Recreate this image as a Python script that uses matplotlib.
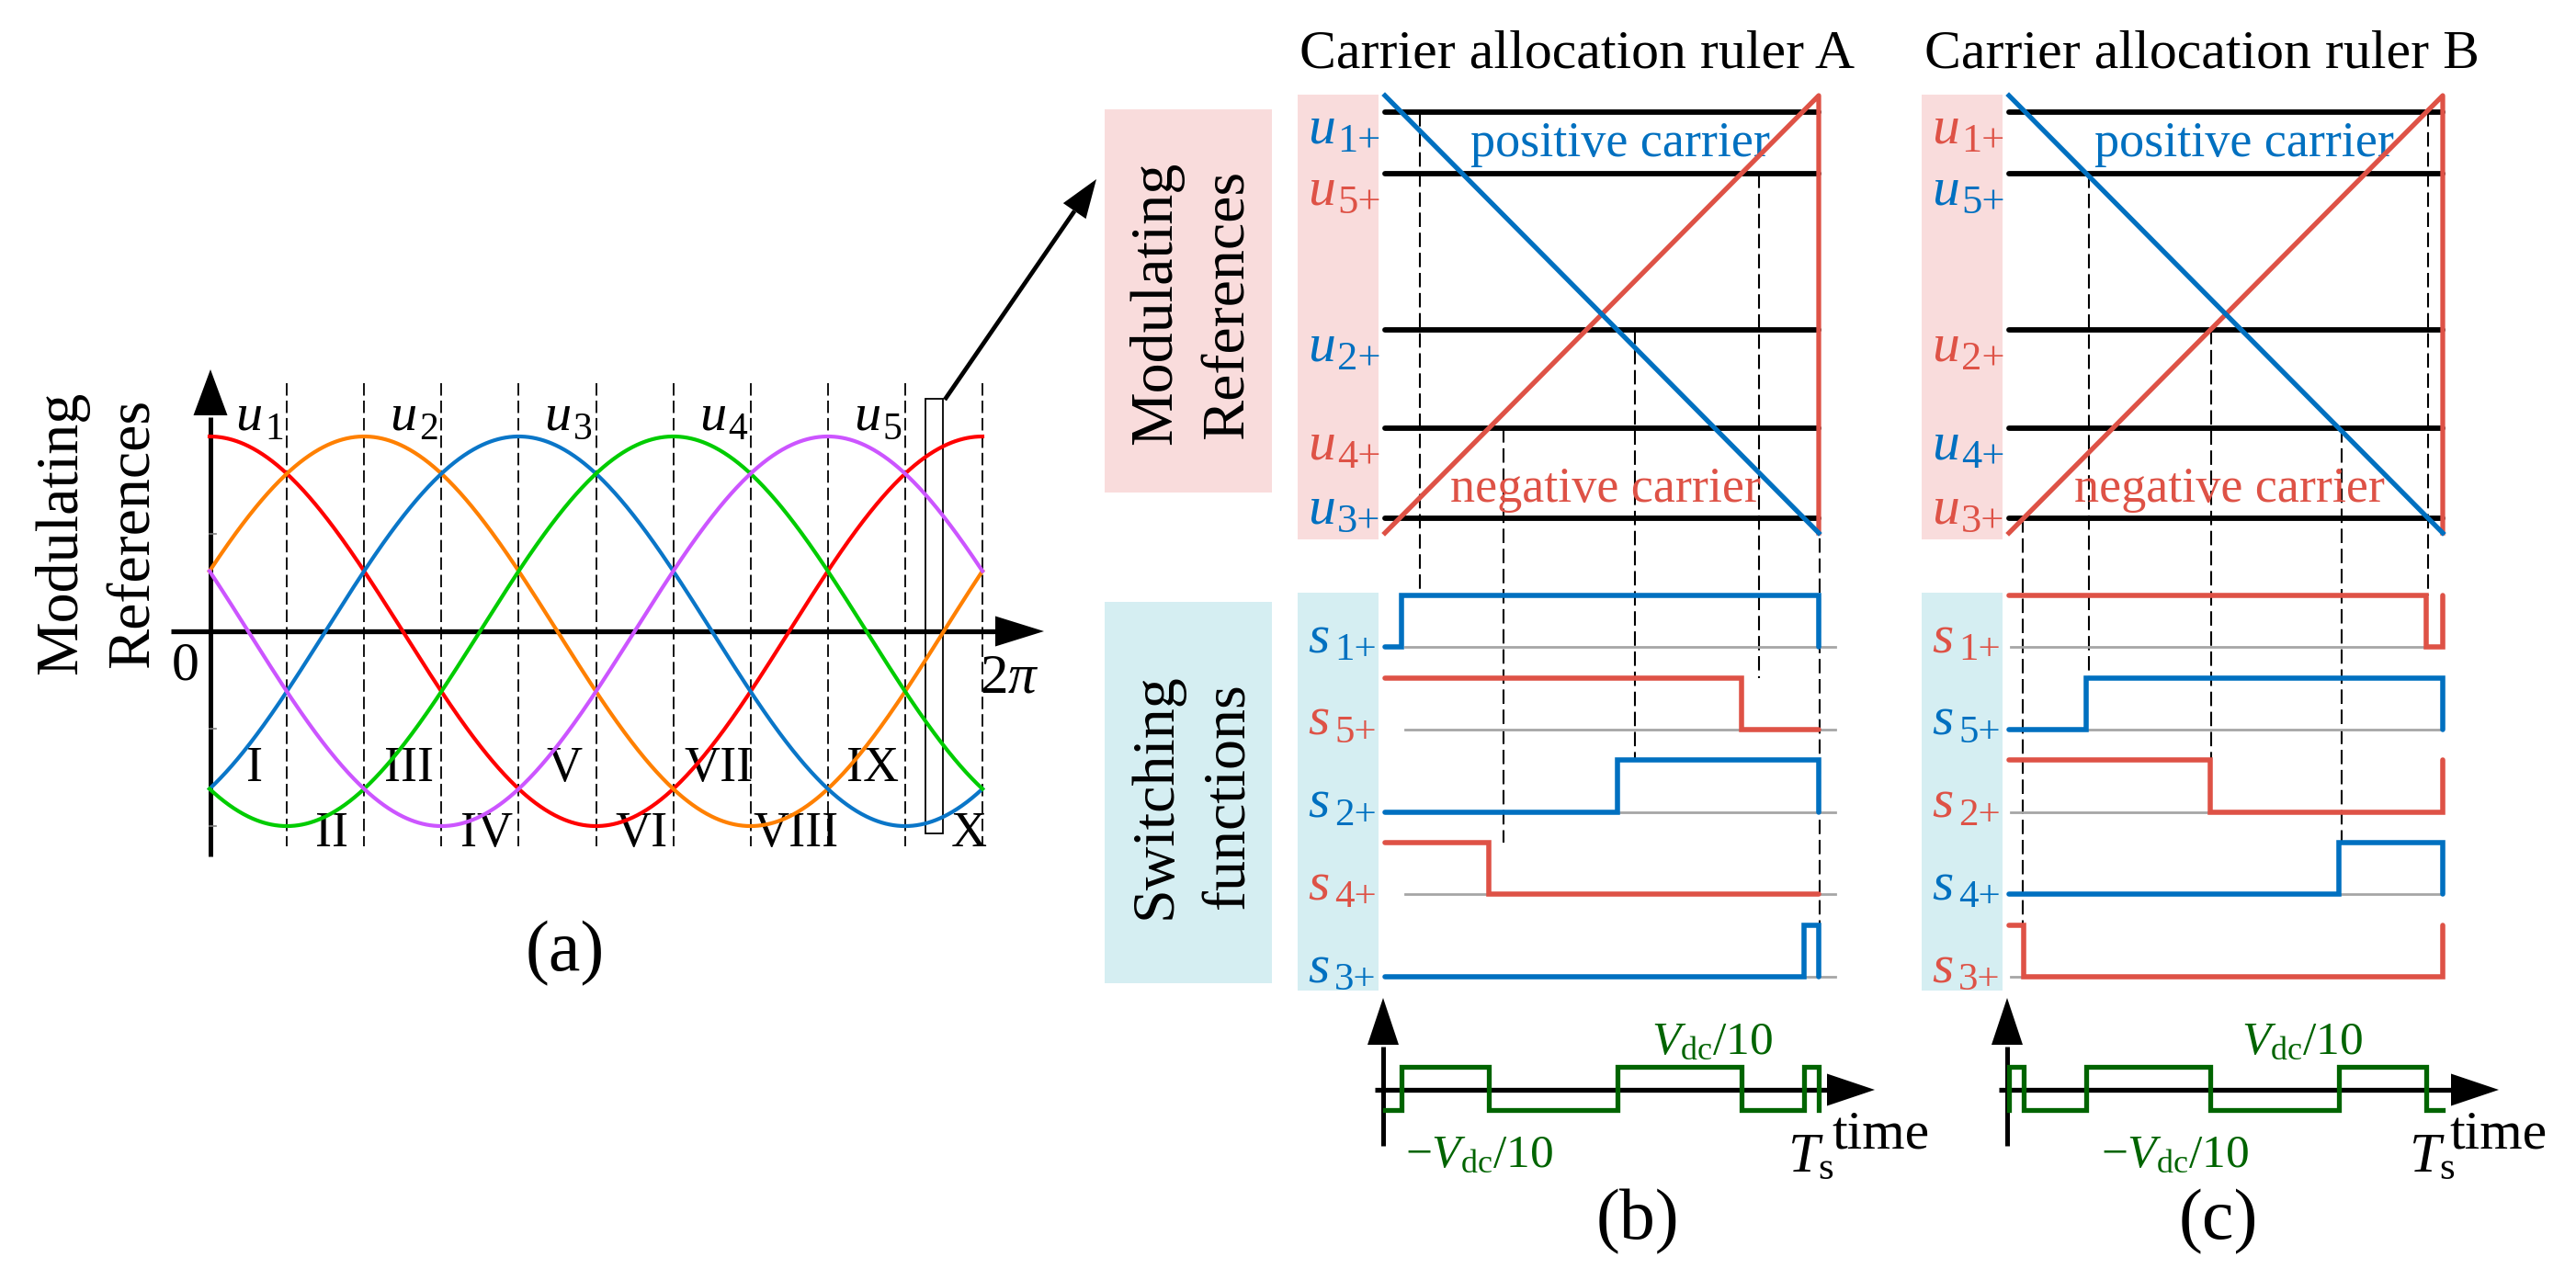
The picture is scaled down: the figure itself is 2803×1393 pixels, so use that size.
import numpy as np
import matplotlib
matplotlib.use('Agg')
import matplotlib.pyplot as plt
from matplotlib.patches import Rectangle, Polygon

plt.rcParams['font.family'] = ['Liberation Serif', 'DejaVu Serif']
plt.rcParams['mathtext.fontset'] = 'custom'
plt.rcParams['mathtext.rm'] = 'Liberation Serif'
plt.rcParams['mathtext.it'] = 'Liberation Serif:italic'
plt.rcParams['mathtext.bf'] = 'Liberation Serif:bold'

# ---------------- data ----------------
# panel (a): five-phase modulating references
phase_names = ['1', '2', '3', '4', '5']
phase_shift_deg = [0, 72, 144, 216, 288]
phase_colors = ['#FF0000', '#FF8000', '#0A76C8', '#00CC00', '#CC55FF']
sector_labels = ['I', 'II', 'III', 'IV', 'V', 'VI', 'VII', 'VIII', 'IX', 'X']
y_ticks_a = [1.0, 0.5, -0.5, -1.0]

# panels (b), (c): sorted references in the highlighted interval
ref_names = ['1+', '5+', '2+', '4+', '3+']
ref_levels = [0.962, 0.821, 0.464, 0.239, 0.034]
carrier_A = ['pos', 'neg', 'pos', 'neg', 'pos']
carrier_B = ['neg', 'pos', 'neg', 'pos', 'neg']
dash_t_A = [0.081, 0.862, 0.576, 0.273, 1.002]
dash_t_B = [0.966, 0.184, 0.466, 0.767, 0.032]

BLUE = '#0070C0'
RED = '#DE5246'
GREEN = '#006400'
GRAY = '#A6A6A6'
PINK = '#F9DCDC'
LBLUE = '#D5EEF2'

W, H = 2803, 1393
fig = plt.figure(figsize=(W / 100, H / 100), dpi=100)
ov = fig.add_axes([0, 0, 1, 1])
ov.set_xlim(0, W)
ov.set_ylim(H, 0)
ov.axis('off')


def add_ax(x0, x1, y0, y1, xlim, ylim):
    ax = fig.add_axes([x0 / W, 1 - y1 / H, (x1 - x0) / W, (y1 - y0) / H])
    ax.set_xlim(*xlim)
    ax.set_ylim(*ylim)
    ax.axis('off')
    return ax


def to_ov(ax, x, y):
    dx, dy = ax.transData.transform((x, y))
    return dx, H - dy


def head(tip, direction, length, width, color='k'):
    tx, ty = tip
    ux, uy = direction
    n = np.hypot(ux, uy)
    ux, uy = ux / n, uy / n
    bx, by = tx - ux * length, ty - uy * length
    px, py = -uy, ux
    ov.add_patch(Polygon([[tx, ty], [bx + px * width / 2, by + py * width / 2],
                          [bx - px * width / 2, by - py * width / 2]],
                         closed=True, fc=color, ec=color, lw=0, zorder=5))
    return bx, by


def sub_label(x, y, main, sub, color='k', size=43, sub_size=32, sub_dx=32, sub_dy=10):
    ov.text(x, y, main, color=color, fontsize=size, fontstyle='italic',
            ha='left', va='baseline', zorder=6)
    ov.text(x + sub_dx, y + sub_dy, sub, color=color, fontsize=sub_size,
            ha='left', va='baseline', zorder=6)


# ---------------- panel (a) ----------------
ax_a = add_ax(228, 1069, 475, 899, (0, 2 * np.pi), (-1, 1))
theta = np.linspace(0, 2 * np.pi, 800)
for name, sh, col in zip(phase_names, phase_shift_deg, phase_colors):
    ax_a.plot(theta, np.cos(theta - np.deg2rad(sh)), color=col, lw=3.0,
              clip_on=False, zorder=3)
    px, _ = to_ov(ax_a, np.deg2rad(sh), 1)
    sub_label(px + 28, 468, 'u', name, size=42, sub_size=30, sub_dx=32, sub_dy=10)

n_sec = len(sector_labels)
for k in range(1, n_sec + 1):
    th = k * 2 * np.pi / n_sec
    ax_a.plot([th, th], [1.274, -1.104], color='k', lw=1.3,
              ls=(0, (7.5, 3)), clip_on=False, zorder=2)
for k, lab in enumerate(sector_labels):
    th = (k + 0.5) * 2 * np.pi / n_sec
    px, _ = to_ov(ax_a, th, 0)
    px += 27 if k == n_sec - 1 else 7
    yb = 850 if k % 2 == 0 else 921
    ov.text(px, yb, lab, fontsize=39, ha='center', va='baseline')
for v in y_ticks_a:
    ax_a.plot([0, 0.055], [v, v], color='#7F7F7F', lw=1.2, clip_on=False)

# axes of (a)
bx, by = head((229, 402), (0, -1), 50, 37)
ov.plot([229, 229], [932, by + 2], color='k', lw=3.6, solid_capstyle='butt')
bx, by = head((1136, 687), (1, 0), 53, 33)
ov.plot([186, bx + 2], [687, 687], color='k', lw=3.8, solid_capstyle='butt')
ov.text(202, 739, '0', fontsize=43, ha='center', va='baseline')
ov.text(1066, 753, r'$2\pi$', fontsize=44, ha='left', va='baseline')
ov.text(83, 580, 'Modulating', rotation=90, rotation_mode='anchor',
        ha='center', va='baseline', fontsize=47.5)
ov.text(162, 580, 'References', rotation=90, rotation_mode='anchor',
        ha='center', va='baseline', fontsize=47.5)
ov.text(615, 1056, '(a)', fontsize=56, ha='center', va='baseline')

# highlighted interval and pointer arrow
ov.add_patch(Rectangle((1007, 434), 19, 473, fill=False, ec='k', lw=1.3, zorder=4))
bx, by = head((1193, 195), (1193 - 1028, 195 - 435), 42, 30)
ov.plot([1028, bx], [435, by], color='k', lw=3.4, solid_capstyle='butt')


# ---------------- panels (b), (c) ----------------
def draw_ruler(x0, carriers, dash_t, cfg):
    ax_c = add_ax(x0, x0 + 472, 104, 580, (0, 1), (0, 1))
    ax_s = add_ax(x0, x0 + 472, 648, 1063, (0, 1), (-4, 0.624))
    ax_v = add_ax(x0, x0 + 472, 1161, 1208, (0, 1), (-0.5, 0.5))

    # boxes
    ov.add_patch(Rectangle((x0 - 95, 103), 88, 484, fc=PINK, ec='none', zorder=0))
    ov.add_patch(Rectangle((x0 - 95, 645), 88, 433, fc=LBLUE, ec='none', zorder=0))
    if cfg['big_boxes']:
        ov.add_patch(Rectangle((1202, 119), 182, 417, fc=PINK, ec='none', zorder=0))
        ov.add_patch(Rectangle((1202, 655), 182, 415, fc=LBLUE, ec='none', zorder=0))
        ov.text(1274, 330, 'Modulating', rotation=90, rotation_mode='anchor',
                ha='center', va='baseline', fontsize=47.5)
        ov.text(1353, 331, 'References', rotation=90, rotation_mode='anchor',
                ha='center', va='baseline', fontsize=47.5)
        ov.text(1274, 866, 'Switching', rotation=90, rotation_mode='anchor',
                ha='center', va='baseline', fontsize=47.5)
        ov.text(1353, 866, 'functions', rotation=90, rotation_mode='anchor',
                ha='center', va='baseline', fontsize=47.5)

    ov.text(cfg['title_x'], 74, cfg['title'], fontsize=43, ha='center', va='baseline')

    # references and carriers
    for u in ref_levels:
        ax_c.plot([0, 1], [u, u], color='k', lw=4.2, solid_capstyle='round',
                  clip_on=False, zorder=2)
    ax_c.plot([0, 1, 1], [0, 1, 0], color=RED, lw=3.8, clip_on=False, zorder=3)
    ax_c.plot([0, 1], [1, 0], color=BLUE, lw=3.8, clip_on=False, zorder=4)
    ov.text(x0 + 256, 170, 'positive carrier', color=BLUE, fontsize=39,
            ha='center', va='baseline')
    ov.text(x0 + 240, 546, 'negative carrier', color=RED, fontsize=39,
            ha='center', va='baseline')

    # switching functions
    switch_t = []
    for i, (name, u, car) in enumerate(zip(ref_names, ref_levels, carriers)):
        col = BLUE if car == 'pos' else RED
        base, high = -i, -i + 0.624
        ax_s.plot(cfg['gray_span'], [base, base], color=GRAY, lw=2.0,
                  clip_on=False, zorder=1)
        if car == 'pos':
            ts = 1 - u
            xs, ys = [0, ts, ts, 1, 1], [base, base, high, high, base]
        else:
            ts = u
            xs, ys = [0, ts, ts, 1], [high, high, base, base]
            if cfg['red_end_jump']:
                xs, ys = xs + [1], ys + [high]
        switch_t.append(ts)
        ax_s.plot(xs, ys, color=col, lw=4.0, solid_joinstyle='miter',
                  solid_capstyle='round', clip_on=False, zorder=3)
        # labels
        _, yl = to_ov(ax_c, 0, u)
        sub_label(x0 - 84, min(yl + 33, 569), 'u', name, color=col,
                  size=43, sub_size=32, sub_dx=32, sub_dy=10)
        _, ys_ = to_ov(ax_s, 0, base)
        sub_label(x0 - 84, ys_ + 6, 's', name, color=col,
                  size=43, sub_size=31, sub_dx=29, sub_dy=8)
        # dashed guide line
        xa, ya = to_ov(ax_c, dash_t[i], u)
        xb, yb = to_ov(ax_s, dash_t[i], high)
        ov.plot([xa, xb], [ya, yb], color='k', lw=1.5, ls=(0, (7.5, 3)), zorder=1)

    # phase voltage waveform
    bps = sorted(set([0.0] + switch_t + [1.0]))
    vx, vy = [0.0], [-0.5]
    for a, b in zip(bps[:-1], bps[1:]):
        m = 0.5 * (a + b)
        tot = 0
        for u, car in zip(ref_levels, carriers):
            if car == 'pos':
                tot += 1 if m >= 1 - u else 0
            else:
                tot += 1 if m < u else 0
        v = tot - 2.5
        vx += [a, b]
        vy += [v, v]
    vx.append(1.0)
    vy.append(-0.5)
    ax_v.plot(vx, vy, color=GREEN, lw=3.8, solid_joinstyle='miter',
              clip_on=False, zorder=3)

    # time axes
    xv = x0 - 2
    bx, by = head((xv, 1086), (0, -1), 51, 34)
    ov.plot([xv, xv], [1247, by + 2], color='k', lw=3.6, solid_capstyle='butt', zorder=2)
    tipx = x0 + 533
    bx, by = head((tipx, 1186), (1, 0), 52, 35)
    ov.plot([x0 - 11, bx + 2], [1186, 1186], color='k', lw=3.8,
            solid_capstyle='butt', zorder=2)

    ov.text(x0 + cfg['vpos_x'], 1147, r'$V_{\mathrm{dc}}/10$', color=GREEN,
            fontsize=37, ha='left', va='baseline')
    ov.text(x0 + cfg['vneg_x'], 1270, r'$-V_{\mathrm{dc}}/10$', color=GREEN,
            fontsize=37, ha='left', va='baseline')
    ov.text(x0 + cfg['ts_x'], 1275, r'$T_{\mathrm{s}}$', fontsize=44,
            ha='left', va='baseline')
    ov.text(x0 + cfg['time_x'], 1250, 'time', fontsize=43, ha='left', va='baseline')
    ov.text(x0 + cfg['lab_x'], 1348, cfg['label'], fontsize=56, ha='center',
            va='baseline')


draw_ruler(1507, carrier_A, dash_t_A,
           dict(big_boxes=True, title='Carrier allocation ruler A', title_x=1716,
                red_end_jump=False, gray_span=[0.047, 1.038],
                vpos_x=290, vneg_x=22, ts_x=438, time_x=486, lab_x=275,
                label='(b)'))
draw_ruler(2186, carrier_B, dash_t_B,
           dict(big_boxes=False, title='Carrier allocation ruler B', title_x=2396,
                red_end_jump=True, gray_span=[0.004, 1.0],
                vpos_x=253, vneg_x=100, ts_x=435, time_x=479, lab_x=228,
                label='(c)'))

fig.savefig('out.png', dpi=100)
